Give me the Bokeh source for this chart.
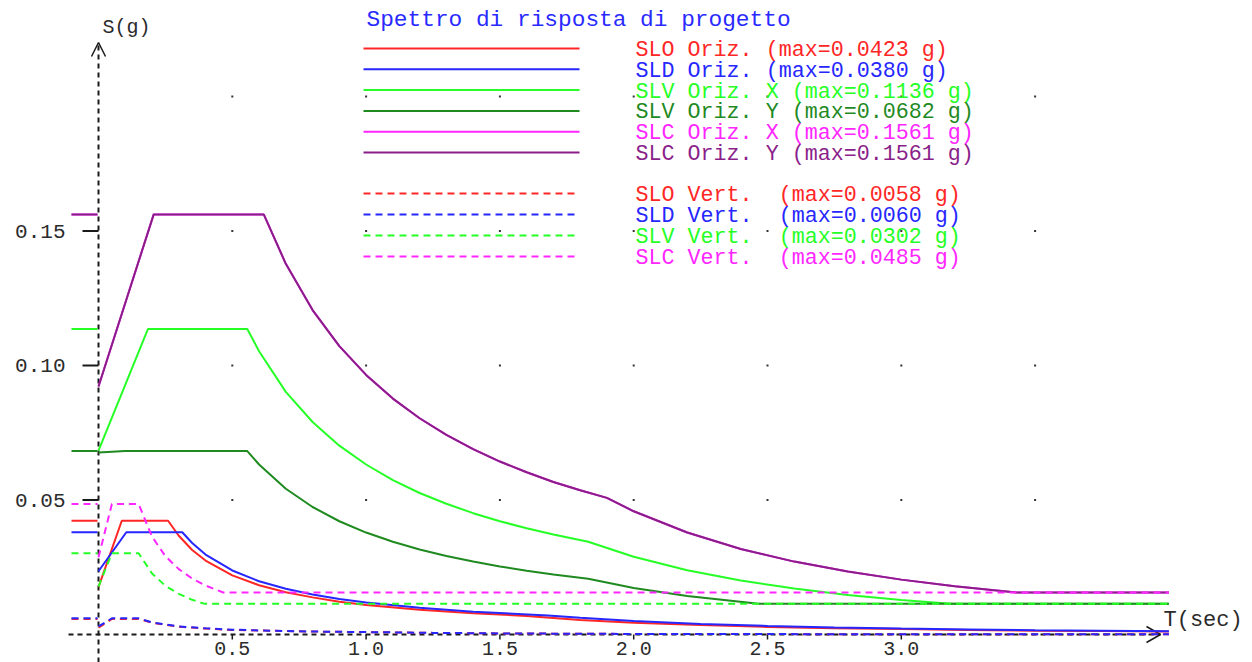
from bokeh.plotting import figure
from bokeh.models import Range1d
from bokeh.core.properties import value
from bokeh.embed import file_html
from bokeh.resources import INLINE

# ---------------------------------------------------------------------------
# Design response spectra: period T (s) and spectral acceleration S (g)
# ---------------------------------------------------------------------------
# Horizontal components
T_SLO_H = [0.0, 0.087, 0.26, 0.3, 0.35, 0.4, 0.5, 0.6, 0.7, 0.8, 0.9, 1.0, 1.2, 1.4,
           1.6, 1.8, 2.0, 2.25, 2.5, 2.75, 3.0, 3.25, 3.5, 3.75, 4.0]
S_SLO_H = [0.0176, 0.0423, 0.0423, 0.0367, 0.0314, 0.0275, 0.0220, 0.0183, 0.0157,
           0.0138, 0.0122, 0.0110, 0.0092, 0.0079, 0.0069, 0.0054, 0.0044, 0.0035,
           0.0028, 0.0023, 0.0020, 0.0017, 0.0014, 0.0013, 0.0011]

T_SLD_H = [0.0, 0.104, 0.313, 0.35, 0.4, 0.5, 0.6, 0.7, 0.8, 0.9, 1.0, 1.2, 1.4, 1.68,
           1.8, 2.0, 2.25, 2.5, 2.75, 3.0, 3.25, 3.5, 3.75, 4.0]
S_SLD_H = [0.0235, 0.0380, 0.0380, 0.0340, 0.0297, 0.0238, 0.0198, 0.0170, 0.0149,
           0.0132, 0.0119, 0.0099, 0.0085, 0.0071, 0.0062, 0.0050, 0.0039, 0.0032,
           0.0026, 0.0022, 0.0019, 0.0016, 0.0014, 0.0012]

T_SLV_X = [0.0, 0.185, 0.556, 0.6, 0.7, 0.8, 0.9, 1.0, 1.1, 1.2, 1.3, 1.4, 1.5, 1.6,
           1.7, 1.83, 2.0, 2.2, 2.4, 2.6, 2.8, 3.0, 3.184, 4.0]
S_SLV_X = [0.0684, 0.1136, 0.1136, 0.1053, 0.0902, 0.0790, 0.0702, 0.0632, 0.0574,
           0.0526, 0.0486, 0.0451, 0.0421, 0.0395, 0.0372, 0.0345, 0.0289, 0.0239,
           0.0201, 0.0171, 0.0147, 0.0128, 0.0114, 0.0114]

T_SLV_Y = [0.0, 0.1, 0.556, 0.6, 0.7, 0.8, 0.9, 1.0, 1.1, 1.2, 1.3, 1.4, 1.5, 1.6,
           1.7, 1.83, 2.0, 2.2, 2.467, 4.0]
S_SLV_Y = [0.0677, 0.0682, 0.0682, 0.0632, 0.0542, 0.0474, 0.0421, 0.0379, 0.0345,
           0.0316, 0.0292, 0.0271, 0.0253, 0.0237, 0.0223, 0.0207, 0.0173, 0.0143,
           0.0114, 0.0114]

T_SLC_X = [0.0, 0.206, 0.618, 0.7, 0.8, 0.9, 1.0, 1.1, 1.2, 1.3, 1.4, 1.5, 1.6, 1.7,
           1.8, 1.9, 2.0, 2.2, 2.4, 2.6, 2.8, 3.0, 3.2, 3.43, 4.0]
S_SLC_X = [0.0922, 0.1561, 0.1561, 0.1378, 0.1206, 0.1072, 0.0965, 0.0877, 0.0804,
           0.0742, 0.0689, 0.0643, 0.0603, 0.0567, 0.0536, 0.0508, 0.0458, 0.0379,
           0.0318, 0.0271, 0.0234, 0.0204, 0.0179, 0.0156, 0.0156]

T_SLC_Y = [0.0, 0.206, 0.618, 0.7, 0.8, 0.9, 1.0, 1.1, 1.2, 1.3, 1.4, 1.5, 1.6, 1.7,
           1.8, 1.9, 2.0, 2.2, 2.4, 2.6, 2.8, 3.0, 3.2, 3.43, 4.0]
S_SLC_Y = [0.0922, 0.1561, 0.1561, 0.1378, 0.1206, 0.1072, 0.0965, 0.0877, 0.0804,
           0.0742, 0.0689, 0.0643, 0.0603, 0.0567, 0.0536, 0.0508, 0.0458, 0.0379,
           0.0318, 0.0271, 0.0234, 0.0204, 0.0179, 0.0156, 0.0156]

# Vertical components
T_SLO_V = [0.0, 0.05, 0.15, 0.2, 0.3, 0.4, 0.5, 0.6, 0.8, 1.0, 1.25, 1.5, 2.0, 3.0, 4.0]
S_SLO_V = [0.0025, 0.0058, 0.0058, 0.0044, 0.0029, 0.0022, 0.0017, 0.0015, 0.0011,
           0.0009, 0.0006, 0.0004, 0.0002, 0.0001, 0.0001]

T_SLD_V = [0.0, 0.05, 0.15, 0.2, 0.3, 0.4, 0.5, 0.6, 0.8, 1.0, 1.25, 1.5, 2.0, 3.0, 4.0]
S_SLD_V = [0.0030, 0.0060, 0.0060, 0.0045, 0.0030, 0.0023, 0.0018, 0.0015, 0.0011,
           0.0009, 0.0006, 0.0004, 0.0002, 0.0001, 0.0001]

T_SLV_V = [0.0, 0.05, 0.15, 0.2, 0.25, 0.3, 0.35, 0.397, 4.0]
S_SLV_V = [0.0178, 0.0302, 0.0302, 0.0227, 0.0181, 0.0151, 0.0129, 0.0114, 0.0114]

T_SLC_V = [0.0, 0.05, 0.15, 0.2, 0.25, 0.3, 0.35, 0.4, 0.466, 4.0]
S_SLC_V = [0.0287, 0.0485, 0.0485, 0.0364, 0.0291, 0.0243, 0.0208, 0.0182, 0.0156, 0.0156]

# Legend names and peak values (vertical names carry a hard space for alignment)
NAMES_H = ["SLO Oriz.", "SLD Oriz.", "SLV Oriz. X", "SLV Oriz. Y", "SLC Oriz. X", "SLC Oriz. Y"]
MAX_H = [0.0423, 0.0380, 0.1136, 0.0682, 0.1561, 0.1561]
NAMES_V = ["SLO Vert.\u00a0", "SLD Vert.\u00a0", "SLV Vert.\u00a0", "SLC Vert.\u00a0"]
MAX_V = [0.0058, 0.0060, 0.0302, 0.0485]

# Axis ticks
X_TICKS = [0.5, 1.0, 1.5, 2.0, 2.5, 3.0]
X_TICK_LABELS = ["0.5", "1.0", "1.5", "2.0", "2.5", "3.0"]
Y_TICKS = [0.05, 0.10, 0.15]
Y_TICK_LABELS = ["0.05", "0.10", "0.15"]
GRID_T = [0.5, 1.0, 1.5, 2.0, 2.5, 3.0, 3.5]
GRID_S = [0.05, 0.10, 0.15, 0.20]

# ---------------------------------------------------------------------------
# Canvas geometry: origin of the T/S axes on the page and pixel scales
# ---------------------------------------------------------------------------
W, H = 1252, 662
X0_PX, Y0_PX = 98.0, 634.0
X_SCALE, Y_SCALE = 267.6, 2690.0


def tx(px):
    """Canvas x pixel -> period T."""
    return (px - X0_PX) / X_SCALE


def sy(py):
    """Canvas y pixel -> acceleration S."""
    return (Y0_PX - py) / Y_SCALE


COLORS_H = ["#ff2626", "#2626ff", "#26ff26", "#1f8a1f", "#ff26ff", "#8a1f8a"]
COLORS_V = ["#ff2626", "#2626ff", "#26ff26", "#ff26ff"]
DASH = "7 5"
MONO = value("Liberation Mono")

p = figure(width=W, height=H,
           x_range=Range1d(tx(0), tx(W)), y_range=Range1d(sy(H), sy(0)),
           x_axis_type=None, y_axis_type=None,
           toolbar_location=None, output_backend="svg", min_border=0)
p.outline_line_color = None
p.background_fill_color = "white"
p.border_fill_color = "white"

# dotted reference grid
gx = [t for t in GRID_T for _ in GRID_S]
gy = [s for _ in GRID_T for s in GRID_S]
p.scatter(gx, gy, marker="square", size=2, color="#333333", line_width=0)

# axes (dashed, with open arrowheads)
axis_col = "#1a1a1a"
p.line([0, 0], [sy(H), sy(42)], line_color=axis_col, line_width=2, line_dash="5 4")
p.line([tx(68), tx(1160)], [0, 0], line_color=axis_col, line_width=2, line_dash="5 4")
p.line([tx(91), 0, tx(105)], [sy(56), sy(42), sy(56)], line_color=axis_col, line_width=1.5)
p.line([tx(1146), tx(1160), tx(1146)], [sy(626), sy(634), sy(642)],
       line_color=axis_col, line_width=1.5)

# ticks and tick labels
p.segment(x0=[tx(82)] * len(Y_TICKS), x1=[0] * len(Y_TICKS), y0=Y_TICKS, y1=Y_TICKS,
          line_color=axis_col, line_width=2)
p.text(x=[tx(65)] * len(Y_TICKS), y=Y_TICKS, text=Y_TICK_LABELS, text_align="right",
       text_baseline="middle", text_font=MONO, text_font_size="21px", text_color="#2b2b2b")
p.segment(x0=X_TICKS, x1=X_TICKS, y0=[0] * len(X_TICKS), y1=[sy(639)] * len(X_TICKS),
          line_color=axis_col, line_width=1.5)
p.text(x=X_TICKS, y=[sy(648)] * len(X_TICKS), text=X_TICK_LABELS, text_align="center",
       text_baseline="middle", text_font=MONO, text_font_size="20px", text_color="#2b2b2b")

# axis captions
p.text(x=[tx(102)], y=[sy(27)], text=["S(g)"], text_align="left", text_baseline="middle",
       text_font=MONO, text_font_size="20px", text_color="#2b2b2b")
p.text(x=[tx(1163)], y=[sy(620)], text=["T(sec)"], text_align="left",
       text_baseline="middle", text_font=MONO, text_font_size="22px", text_color="#2b2b2b")

# spectra: horizontal (solid), then vertical (dashed)
curves_h = [(T_SLO_H, S_SLO_H), (T_SLD_H, S_SLD_H), (T_SLV_X, S_SLV_X),
            (T_SLV_Y, S_SLV_Y), (T_SLC_X, S_SLC_X), (T_SLC_Y, S_SLC_Y)]
curves_v = [(T_SLO_V, S_SLO_V), (T_SLD_V, S_SLD_V), (T_SLV_V, S_SLV_V), (T_SLC_V, S_SLC_V)]

for (t, s), m, c in zip(curves_h, MAX_H, COLORS_H):
    p.line(t, s, line_color=c, line_width=2)
    p.segment(x0=[tx(71)], x1=[tx(97)], y0=[m], y1=[m], line_color=c, line_width=2)

for (t, s), m, c in zip(curves_v, MAX_V, COLORS_V):
    p.line(t, s, line_color=c, line_width=2, line_dash=DASH)
    p.segment(x0=[tx(71)], x1=[tx(97)], y0=[m], y1=[m], line_color=c, line_width=2,
              line_dash=DASH)

# title and legend
p.text(x=[tx(366)], y=[sy(19)], text=["Spettro di risposta di progetto"],
       text_align="left", text_baseline="middle", text_font=MONO,
       text_font_size="22.8px", text_color="#2a2aff")

rows_h = [48 + 20.8 * i for i in range(len(NAMES_H))]
rows_v = [193 + 21.0 * i for i in range(len(NAMES_V))]

for row, name, m, c in zip(rows_h, NAMES_H, MAX_H, COLORS_H):
    p.line([tx(363), tx(579)], [sy(row), sy(row)], line_color=c, line_width=2)
    p.text(x=[tx(635)], y=[sy(row + 2)], text=[f"{name} (max={m:.4f} g)"],
           text_align="left", text_baseline="middle", text_font=MONO,
           text_font_size="21.7px", text_color=c)

for row, name, m, c in zip(rows_v, NAMES_V, MAX_V, COLORS_V):
    p.line([tx(363), tx(579)], [sy(row), sy(row)], line_color=c, line_width=2,
           line_dash=DASH)
    p.text(x=[tx(635)], y=[sy(row + 2)], text=[f"{name} (max={m:.4f} g)"],
           text_align="left", text_baseline="middle", text_font=MONO,
           text_font_size="21.7px", text_color=c)

open("out.html", "w").write(file_html(p, INLINE))
